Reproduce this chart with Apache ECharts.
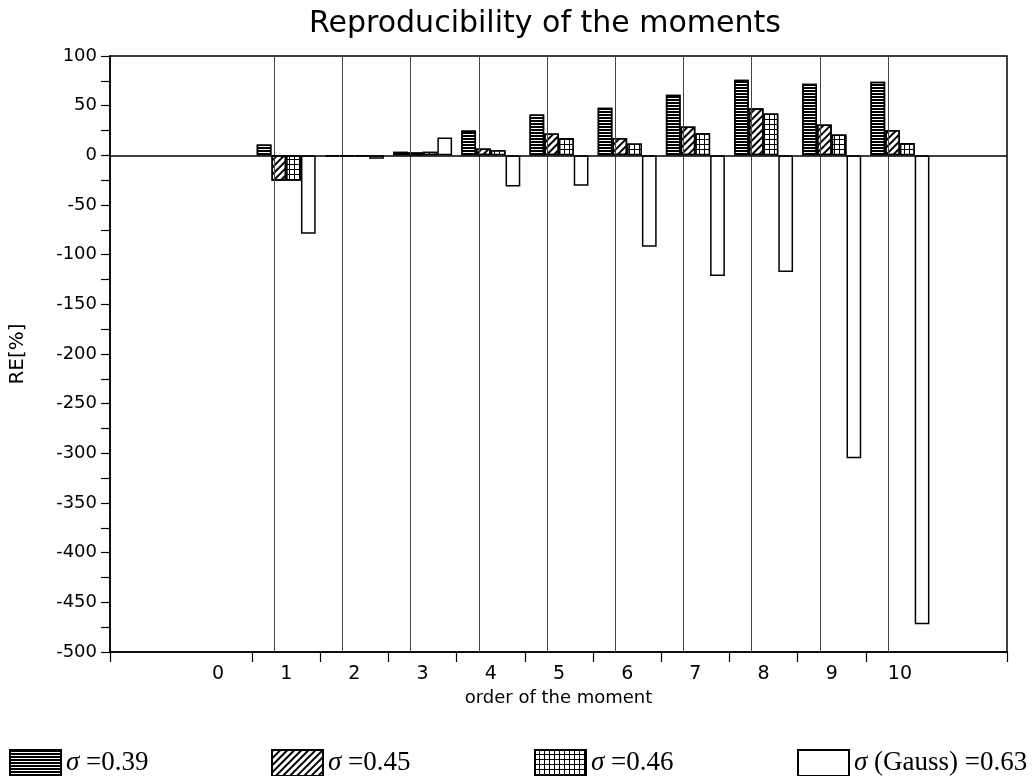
<!DOCTYPE html>
<html>
<head>
<meta charset="utf-8">
<script src="https://cdn.jsdelivr.net/npm/echarts@6/dist/echarts.min.js"></script>
<style>
  html, body { margin: 0; padding: 0; background: #fff; }
  #chart { width: 1034px; height: 776px; }
</style>
</head>
<body>
<div id="chart"></div>
<script>
// order of the moment (bars) and the axis labels
var orders = [1, 2, 3, 4, 5, 6, 7, 8, 9, 10]
var orderLabels = [0, 1, 2, 3, 4, 5, 6, 7, 8, 9, 10]
var boundaries = [0.5, 1.5, 2.5, 3.5, 4.5, 5.5, 6.5, 7.5, 8.5, 9.5]

// RE[%] per sigma
var re039 = [11, -1, 3.5, 25, 41, 48, 61, 76, 72, 74]
var re045 = [-25.5, -1, 3, 7, 22, 17.5, 29, 47.5, 31, 25.5]
var re046 = [-25.5, -1, 3.5, 5, 17.5, 12, 22.5, 42, 21, 12.5]
var reGauss = [-79, -3.5, 18, -31.5, -30.5, -92, -121.5, -117.5, -305, -472]

var seriesNames = ['σ =0.39', 'σ =0.45', 'σ =0.46', 'σ (Gauss) =0.63']

var chartDom = document.getElementById('chart')
var myChart = echarts.init(chartDom)

var xMin = -1.584
var xMax = 11.57

function pairs (vals) {
  return orders.map(function (o, i) { return [o, vals[i]] })
}

var barBase = {
  type: 'bar',
  barWidth: 14.75,
  barGap: '0%',
  animation: false
}

function legendAt (name, left) {
  return {
    data: [{ name: name, icon: 'rect' }],
    left: left,
    top: 749,
    padding: 0,
    itemWidth: 51,
    itemHeight: 26,
    itemGap: 9,
    textStyle: {
      fontFamily: 'Liberation Serif',
      fontSize: 27,
      color: '#000',
      rich: {
        s: { fontFamily: 'Liberation Serif', fontStyle: 'italic', fontSize: 27, color: '#000' }
      }
    },
    formatter: function (n) { return n.replace('σ', '{s|σ}') }
  }
}

var option = {
  backgroundColor: '#fff',
  animation: false,
  title: {
    text: 'Reproducibility of the moments',
    left: 540,
    textAlign: 'center',
    top: 4,
    textStyle: { fontFamily: 'DejaVu Sans', fontWeight: 'normal', fontSize: 30, color: '#000' }
  },
  legend: [
    legendAt(seriesNames[0], 9),
    legendAt(seriesNames[1], 271),
    legendAt(seriesNames[2], 534),
    legendAt(seriesNames[3], 797)
  ],
  grid: {
    left: 110,
    right: 27,
    top: 56,
    bottom: 124,
    show: true,
    borderColor: '#000',
    borderWidth: 1.5
  },
  xAxis: {
    type: 'value',
    min: xMin,
    max: xMax,
    name: 'order of the moment',
    nameLocation: 'middle',
    nameGap: 34,
    nameTextStyle: { fontFamily: 'DejaVu Sans', fontSize: 18, color: '#000' },
    axisLine: { onZero: false, lineStyle: { color: '#000', width: 1.5 } },
    axisTick: {
      show: true,
      length: 10,
      customValues: [xMin].concat(boundaries, [xMax]),
      lineStyle: { color: '#000', width: 1.2 }
    },
    axisLabel: {
      customValues: orderLabels,
      margin: 13,
      fontFamily: 'DejaVu Sans',
      fontSize: 19,
      color: '#000'
    },
    splitLine: { show: false }
  },
  yAxis: {
    type: 'value',
    min: -500,
    max: 100,
    interval: 25,
    name: 'RE[%]',
    nameLocation: 'middle',
    nameGap: 82,
    nameTextStyle: { fontFamily: 'DejaVu Sans', fontSize: 20, color: '#000' },
    axisLine: { show: true, onZero: false, lineStyle: { color: '#000', width: 1.5 } },
    axisTick: { show: true, length: 9, lineStyle: { color: '#000', width: 1.2 } },
    axisLabel: {
      margin: 13,
      fontFamily: 'DejaVu Sans',
      fontSize: 18,
      color: '#000',
      formatter: function (v) { return v % 50 === 0 ? String(v) : '' }
    },
    splitLine: { show: false }
  },
  series: [
    Object.assign({}, barBase, {
      name: seriesNames[0],
      data: pairs(re039),
      itemStyle: {
        color: '#fff',
        borderColor: '#000',
        borderWidth: 1.5,
        decal: { symbol: 'rect', symbolSize: 1, color: '#000', dashArrayX: [1, 0], dashArrayY: [2, 1], rotation: 0 }
      }
    }),
    Object.assign({}, barBase, {
      name: seriesNames[1],
      data: pairs(re045),
      itemStyle: {
        color: '#fff',
        borderColor: '#000',
        borderWidth: 1.5,
        decal: { symbol: 'rect', symbolSize: 1, color: '#000', dashArrayX: [1, 0], dashArrayY: [2, 2.5], rotation: -Math.PI / 4 }
      }
    }),
    Object.assign({}, barBase, {
      name: seriesNames[2],
      data: pairs(re046),
      itemStyle: {
        color: '#000',
        borderColor: '#000',
        borderWidth: 1.5,
        decal: { symbol: 'rect', symbolSize: 1, color: '#fff', dashArrayX: [4, 1], dashArrayY: [4, 1], rotation: 0 }
      }
    }),
    Object.assign({}, barBase, {
      name: seriesNames[3],
      data: pairs(reGauss),
      itemStyle: { color: '#fff', borderColor: '#000', borderWidth: 1.5 },
      markLine: {
        silent: true,
        symbol: 'none',
        label: { show: false },
        data: boundaries.map(function (b) {
          return { xAxis: b, lineStyle: { color: '#444', width: 1, type: 'solid' } }
        }).concat([{ yAxis: 0, lineStyle: { color: '#000', width: 1.5, type: 'solid' } }])
      }
    })
  ]
}

option && myChart.setOption(option)
</script>
</body>
</html>
